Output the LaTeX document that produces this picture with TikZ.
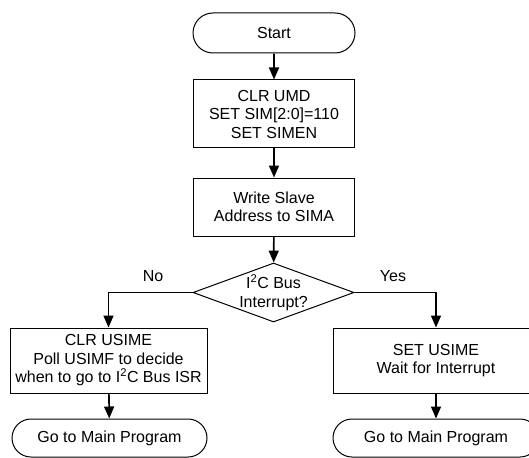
\documentclass[tikz,border=0pt]{standalone}
\usepackage{fontspec}
\setmainfont{Liberation Sans}
\usetikzlibrary{shapes.geometric, shapes.misc, arrows.meta}

\begin{document}
\begin{tikzpicture}[x=1pt, y=1pt,
    every node/.style={font=\fontsize{16}{18.5}\selectfont, align=center, inner sep=0pt},
    termbox/.style={draw, rounded rectangle, line width=1pt},
    stepbox/.style={draw, rectangle, line width=1pt},
    decbox/.style={draw, diamond, line width=1pt},
    flow/.style={-{Triangle[length=12pt, width=10pt]}, line width=1.6pt}]
            \useasboundingbox (0,0) rectangle (529,-457);
            % main column
            \node[termbox, minimum width=162, minimum height=40] (start) at (274,-33) {Start};
            \node[stepbox, minimum width=161, minimum height=68] (clrumd) at (274,-114)
                {CLR UMD\\SET SIM[2:0]=110\\SET SIMEN};
            \node[stepbox, minimum width=161, minimum height=58] (slave) at (274,-207)
                {Write Slave\\Address to SIMA};
            \node[decbox, minimum width=161, minimum height=59,
                label={[align=center]center:I\textsuperscript{2}C Bus\\Interrupt?}] (irq) at (273.5,-292.5) {};
            % branches
            \node[stepbox, minimum width=197, minimum height=65] (poll) at (108.5,-360.5)
                {CLR USIME\\Poll USIMF to decide\\when to go to I\textsuperscript{2}C Bus ISR};
            \node[termbox, minimum width=195, minimum height=38] (mainl) at (109.5,-438) {Go to Main Program};
            \node[stepbox, minimum width=206, minimum height=65] (wait) at (436,-360.5)
                {SET USIME\\Wait for Interrupt};
            \node[termbox, minimum width=206, minimum height=38] (mainr) at (436,-438) {Go to Main Program};
            \node (no) at (153,-276) {No};
            \node (yes) at (393,-276) {Yes};
            % connectors
            \draw[flow] (start) -- (clrumd);
            \draw[flow] (clrumd) -- (slave);
            \draw[flow] (slave) -- (irq);
            \draw[flow] (irq.west) -| (poll.north);
            \draw[flow] (irq.east) -| (wait.north);
            \draw[flow] (poll) -- (mainl);
            \draw[flow] (wait) -- (mainr);
        \end{tikzpicture}
\end{document}
